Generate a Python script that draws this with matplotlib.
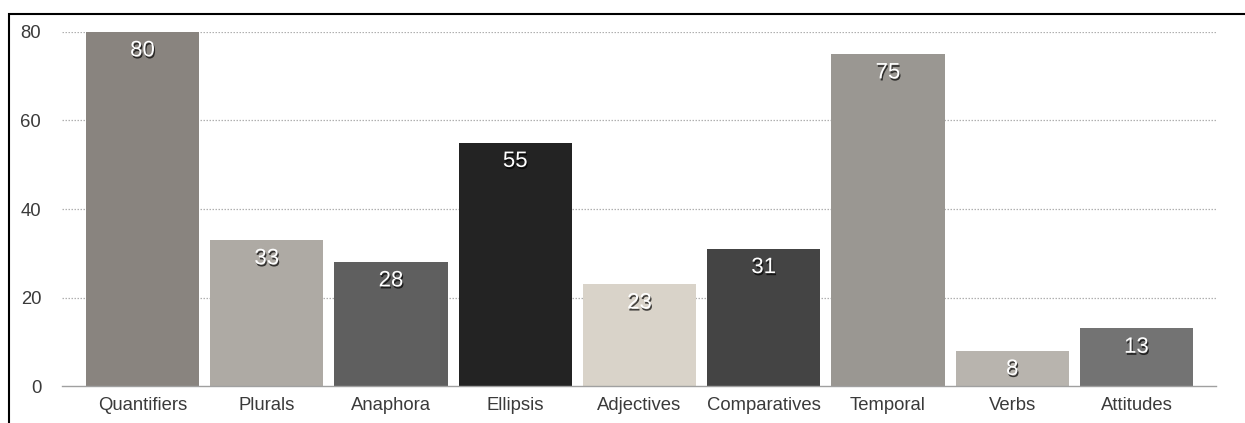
import numpy as np
import matplotlib.pyplot as plt
import matplotlib.patheffects as pe
from matplotlib.patches import Rectangle

plt.rcParams['font.family'] = ['Liberation Sans', 'DejaVu Sans']

# Data
categories = ['Quantifiers', 'Plurals', 'Anaphora', 'Ellipsis', 'Adjectives',
              'Comparatives', 'Temporal', 'Verbs', 'Attitudes']
values = [80, 33, 28, 55, 23, 31, 75, 8, 13]
colors = ['#89847f', '#aeaaa4', '#5f5f5f', '#232323', '#d9d3c9',
          '#444444', '#9a9792', '#b8b4ae', '#737373']
yticks = [0, 20, 40, 60, 80]

fig = plt.figure(figsize=(12.45, 4.23), dpi=100)
ax = fig.add_axes([62/1245, 1-386/423, (1216-62)/1245, (386-32)/423])

x = np.arange(len(categories))
bars = ax.bar(x, values, width=0.91, color=colors, zorder=2)

ax.set_xlim(-0.648, 8.64)
ax.set_ylim(0, 80)
ax.set_yticks(yticks)
ax.set_xticks(x)
ax.set_xticklabels(categories)
ax.tick_params(axis='both', length=0, labelsize=13.3, labelcolor='#3a3a3a')
ax.tick_params(axis='y', pad=15)
ax.tick_params(axis='x', pad=8)

# dotted grid lines
for yv in yticks[1:]:
    ax.axhline(yv, color='#b0b0b0', lw=0.9, ls=(0, (1.2, 1.2)), zorder=1)

for s in ['top', 'right', 'left']:
    ax.spines[s].set_visible(False)
ax.spines['bottom'].set_color('#a0a0a0')
ax.spines['bottom'].set_linewidth(1)

# value labels
shadow = [pe.SimplePatchShadow(offset=(0.8, -1.5), shadow_rgbFace='black', alpha=0.7), pe.Normal()]
for xi, v in zip(x, values):
    ax.annotate(str(v), (xi, v), xytext=(0, -13.5), textcoords='offset points',
                ha='center', va='center', color='white', fontsize=16,
                path_effects=shadow, zorder=3)

# outer frame
fig.patches.append(Rectangle((9/1245, -0.1), 1.0, 1 - 14/423 + 0.1,
                             transform=fig.transFigure, fill=False,
                             edgecolor='black', lw=1.5))

fig.savefig('out.png', dpi=100)
